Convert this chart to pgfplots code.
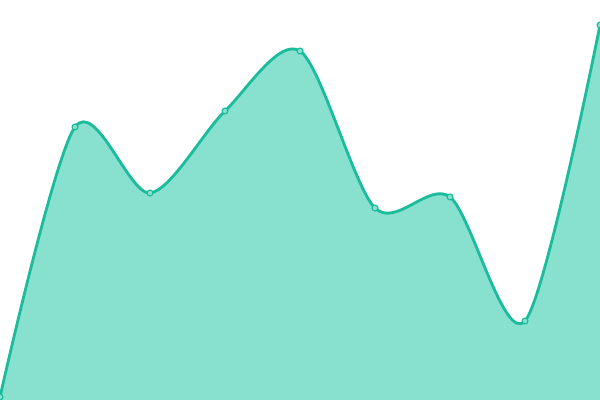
\documentclass[border=0pt]{standalone}
\usepackage{pgfplots}
\pgfplotsset{compat=1.18}
\definecolor{teal1}{HTML}{1ABC9C}
\definecolor{tealfill}{HTML}{88E0CF}
\begin{document}
\begin{tikzpicture}
\begin{axis}[
    scale only axis,
    width=15cm,
    height=10cm,
    xmin=0, xmax=8,
    ymin=0, ymax=400,
    hide axis,
    clip=true,
    clip marker paths=true,
]
\addplot[draw=none, fill=tealfill, smooth, tension=0.5] coordinates {
    (0,3) (1,273) (2,207) (3,289) (4,349) (5,192) (6,203) (7,79) (8,375)
} \closedcycle;
\addplot[color=teal1, line width=2pt, smooth, tension=0.5,
    mark=*, mark size=2.1pt, mark options={fill=tealfill, line width=0.8pt}] coordinates {
    (0,3) (1,273) (2,207) (3,289) (4,349) (5,192) (6,203) (7,79) (8,375)
};
\end{axis}
\pgfresetboundingbox
\useasboundingbox (current axis.south west) rectangle (current axis.north east);
\end{tikzpicture}
\end{document}
